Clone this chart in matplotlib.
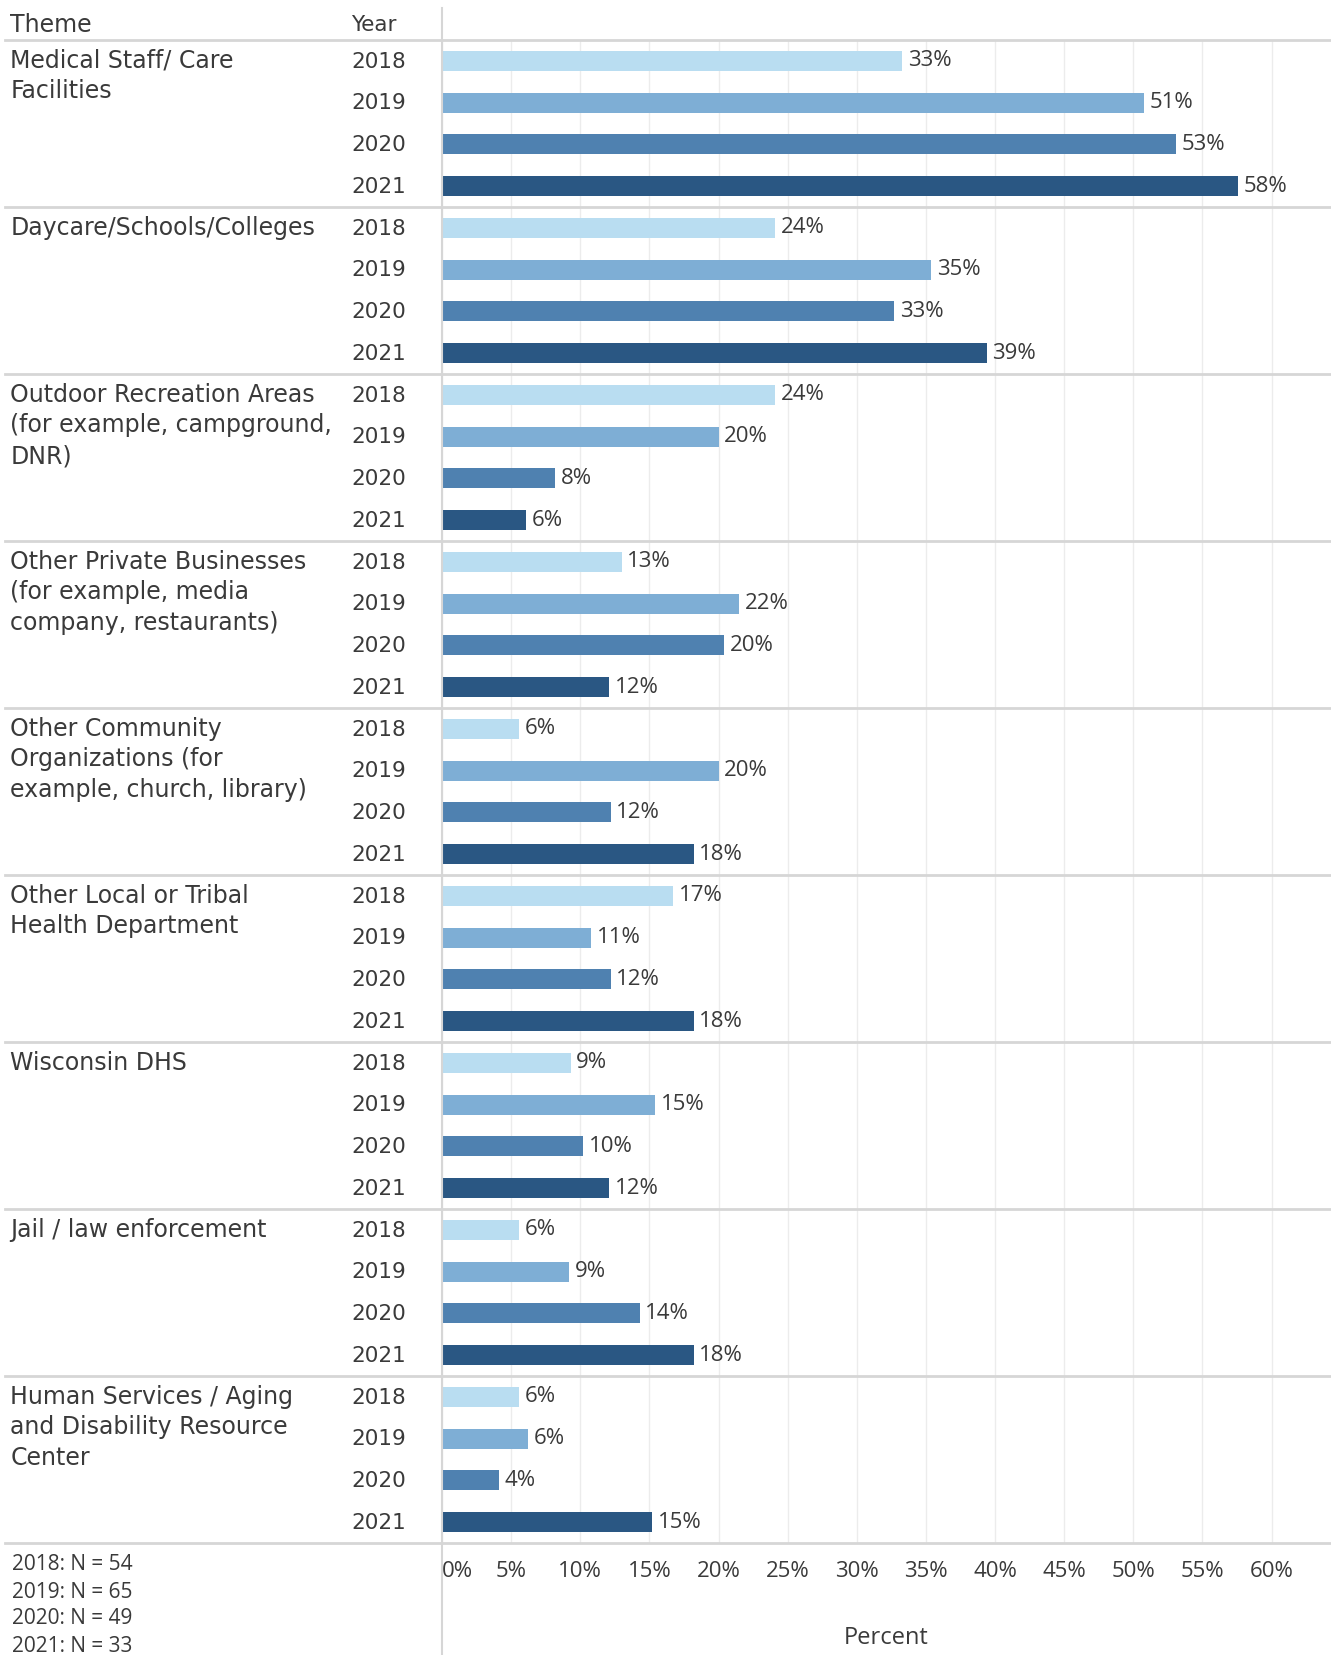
import matplotlib
matplotlib.use("Agg")
import matplotlib.pyplot as plt
from matplotlib.transforms import blended_transform_factory
from matplotlib.lines import Line2D

# Survey results: share of respondents per theme and year (%)
themes = [
    "Medical Staff/ Care\nFacilities",
    "Daycare/Schools/Colleges",
    "Outdoor Recreation Areas\n(for example, campground,\nDNR)",
    "Other Private Businesses\n(for example, media\ncompany, restaurants)",
    "Other Community\nOrganizations (for\nexample, church, library)",
    "Other Local or Tribal\nHealth Department",
    "Wisconsin DHS",
    "Jail / law enforcement",
    "Human Services / Aging\nand Disability Resource\nCenter",
]
years = ["2018", "2019", "2020", "2021"]
pct_2018 = [33.3, 24.1, 24.1, 13.0, 5.6, 16.7, 9.3, 5.6, 5.6]
pct_2019 = [50.8, 35.4, 20.0, 21.5, 20.0, 10.8, 15.4, 9.2, 6.2]
pct_2020 = [53.1, 32.7, 8.2, 20.4, 12.2, 12.2, 10.2, 14.3, 4.1]
pct_2021 = [57.6, 39.4, 6.1, 12.1, 18.2, 18.2, 12.1, 18.2, 15.2]
sample_sizes = ["2018: N = 54", "2019: N = 65", "2020: N = 49", "2021: N = 33"]
x_ticks = [0, 5, 10, 15, 20, 25, 30, 35, 40, 45, 50, 55, 60]

series = [pct_2018, pct_2019, pct_2020, pct_2021]
colors = ["#b9ddf1", "#7eaed5", "#4f81b0", "#2a5783"]
text_color = "#3a3a3a"
line_color = "#d6d6d6"
FONT = "Open Sans"
LABEL_FONT = "DejaVu Sans"
FS = 16
LFS = 15.5
TFS = 17

W, H = 1331, 1655
fig = plt.figure(figsize=(W / 100, H / 100), dpi=100)
ax_left = 442 / W
ax_bottom = 1 - 1543 / H
ax_top = 1 - 40 / H
ax = fig.add_axes([ax_left, ax_bottom, 1 - ax_left, ax_top - ax_bottom])

n_rows = len(themes) * len(years)
ax.set_ylim(n_rows, 0)
ax.set_xlim(0, 64.3)

for j, (vals, col) in enumerate(zip(series, colors)):
    for i, v in enumerate(vals):
        y = i * len(years) + j + 0.5
        ax.barh(y, v, height=0.48, color=col, edgecolor="none", zorder=3)
        ax.annotate(f"{v:.0f}%", (v, y), xytext=(4, 0), textcoords="offset points",
                    va="center", ha="left", fontsize=FS, family=FONT,
                    color=text_color, zorder=4)

# axis styling
for s in ax.spines.values():
    s.set_visible(False)
ax.set_yticks([])
ax.set_xticks(x_ticks)
ax.set_xticklabels([f"{t}%" for t in x_ticks], fontsize=FS, family=FONT, color=text_color)
ax.tick_params(axis="x", length=0, pad=13)
ax.get_xticklabels()[0].set_ha("left")
ax.grid(axis="x", color="#ececec", lw=1, zorder=0)
ax.set_xlabel("Percent", fontsize=FS + 1, family=FONT, color=text_color, labelpad=32)

# left-side text columns
tr = blended_transform_factory(fig.transFigure, ax.transData)
theme_x = 10.5 / W
year_x = 351 / W
line_step = 0.733
for i, theme in enumerate(themes):
    for k, line in enumerate(theme.split("\n")):
        ax.text(theme_x, i * 4 + 0.5 + k * line_step, line, transform=tr,
                va="center", ha="left", fontsize=TFS, family=LABEL_FONT, color=text_color)
    for j, yr in enumerate(years):
        ax.text(year_x, i * 4 + j + 0.52, yr, transform=tr,
                va="center", ha="left", fontsize=LFS, family=LABEL_FONT, color=text_color)

# group separators
for b in range(0, n_rows + 1, 4):
    ax.add_line(Line2D([5.3 / W, 1.0], [b, b], transform=tr, color=line_color,
                       lw=2, clip_on=False, zorder=5))

# vertical divider between labels and bars
fig.add_artist(Line2D([ax_left, ax_left], [1 - 8.4 / H, 0], transform=fig.transFigure,
                      color=line_color, lw=1.5))

# header
fig.text(theme_x, 1 - 25 / H, "Theme", va="center", ha="left", fontsize=TFS,
         family=LABEL_FONT, color=text_color)
fig.text(year_x, 1 - 25 / H, "Year", va="center", ha="left", fontsize=LFS,
         family=LABEL_FONT, color=text_color)

# sample sizes
for k, s in enumerate(sample_sizes):
    fig.text(12.5 / W, 1 - (1565 + k * 27) / H, s, va="center", ha="left",
             fontsize=FS - 1, family=FONT, color=text_color)

fig.savefig("out.png", dpi=100, facecolor="white")
